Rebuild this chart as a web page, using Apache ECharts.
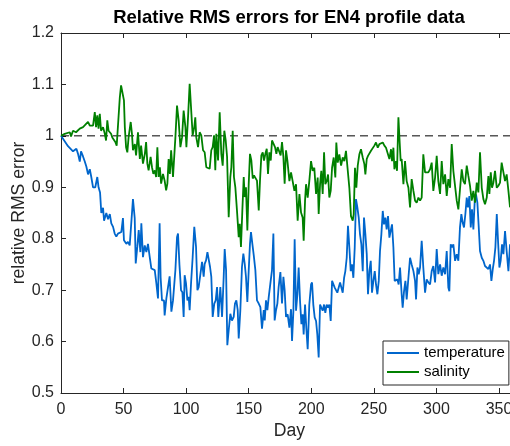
<!DOCTYPE html>
<html>
<head>
<meta charset="utf-8">
<script src="https://cdn.jsdelivr.net/npm/echarts@6/dist/echarts.min.js"></script>
<style>
html,body{margin:0;padding:0;background:#fff;}
#chart{width:510px;height:446px;}
</style>
</head>
<body>
<div id="chart"></div>
<script>
// ---- data (day, relative RMS error) ----
const titleText = 'Relative RMS errors for EN4 profile data';
const xName = 'Day';
const yName = 'relative RMS error';
const seriesNames = ['temperature', 'salinity'];
const xTicks = [0, 50, 100, 150, 200, 250, 300, 350];
const yTicks = [0.5, 0.6, 0.7, 0.8, 0.9, 1.0, 1.1, 1.2];
const referenceLevel = [[0, 1], [365, 1]];

const temperature = [
[0,1.0],[5.6,0.98],[9.6,0.97],[12.3,0.975],[13.6,0.965],[15,0.95],[16,0.97],[17.6,0.96],[19,0.95],[20.3,0.94],
[21.6,0.925],[23,0.935],[24.2,0.92],[25.6,0.90],[27.4,0.90],[29,0.92],[30,0.90],[31.2,0.89],[32.2,0.85],[33.6,0.86],
[34.4,0.835],[36.2,0.85],[37.6,0.838],[39,0.848],[40.2,0.83],[41.6,0.823],[42.9,0.81],[44.2,0.804],[45.5,0.81],[46.9,0.807],
[48.2,0.813],[49.5,0.84],[50.3,0.797],[52.2,0.79],[53.5,0.794],[54.9,0.787],[56.2,0.79],[57.5,0.877],[58.9,0.84],[59.7,0.752],
[61,0.785],[62.1,0.817],[63.4,0.774],[64.2,0.83],[65.5,0.764],[66.9,0.787],[68.2,0.774],[69.5,0.79],[70.9,0.764],[72.2,0.742],
[73.5,0.745],[74.9,0.739],[76.2,0.713],[77.5,0.684],[78.8,0.83],[79.6,0.725],[80.7,0.68],[82.3,0.68],[82.8,0.651],[84.2,0.684],
[85.5,0.687],[86.8,0.727],[88.2,0.658],[89.5,0.68],[91.4,0.739],[92.7,0.803],[93.5,0.81],[94.6,0.751],[95.9,0.70],[97,0.696],
[98,0.648],[98.8,0.729],[99.9,0.713],[101,0.68],[102,0.687],[102.8,0.661],[103.9,0.713],[105.2,0.764],[106.5,0.823],[107.9,0.784],
[109,0.70],[110,0.706],[111.3,0.703],[112.7,0.755],[114,0.726],[114.8,0.751],[115.9,0.758],[117,0.774],[118,0.771],[119.1,0.745],
[120.1,0.726],[121.2,0.648],[122.5,0.674],[123.6,0.68],[124.7,0.706],[125.7,0.648],[127.3,0.706],[128.7,0.648],[130,0.726],[130.8,0.78],
[131.9,0.739],[132.9,0.593],[134,0.622],[135.3,0.654],[136.6,0.641],[138,0.648],[139,0.674],[140.1,0.68],[141.2,0.661],[142,0.606],
[143.3,0.661],[144.6,0.745],[145.7,0.771],[146.8,0.751],[147.8,0.726],[148.9,0.677],[150,0.739],[151,0.79],[151.8,0.813],[152.9,0.79],
[154,0.768],[155.3,0.739],[156.6,0.68],[158,0.674],[159.3,0.667],[160.6,0.625],[162,0.661],[162.8,0.641],[163.8,0.68],[164.9,0.661],
[166,0.687],[167.3,0.713],[168.6,0.739],[169.7,0.81],[170.7,0.641],[171.8,0.661],[172.9,0.674],[173.9,0.706],[175.3,0.735],[176.6,0.674],
[177.7,0.726],[178.7,0.70],[179.8,0.648],[181.1,0.653],[182.5,0.627],[183.8,0.663],[184.6,0.601],[185.7,0.66],[186.7,0.799],[187.8,0.66],
[188.9,0.692],[189.9,0.744],[191,0.679],[192.1,0.634],[193.1,0.653],[193.9,0.614],[195,0.672],[196,0.627],[197.1,0.585],[198.4,0.672],
[199.8,0.711],[200.6,0.715],[201.6,0.672],[202.7,0.647],[203.8,0.64],[204.8,0.614],[205.9,0.569],[207,0.672],[208,0.666],[209.1,0.66],
[210.2,0.672],[211.2,0.656],[212.3,0.672],[213.4,0.666],[214.4,0.672],[215.5,0.64],[216.6,0.718],[217.6,0.715],[218.7,0.705],[219.8,0.705],
[220.8,0.695],[221.9,0.705],[223,0.715],[224,0.718],[225.1,0.695],[226.2,0.724],[227.2,0.737],[228.3,0.763],[229.3,0.825],[230.4,0.783],
[231.5,0.737],[232.5,0.75],[233.6,0.724],[234.7,0.783],[235.7,0.877],[236.8,0.861],[237.9,0.841],[238.9,0.809],[240,0.789],[241.1,0.737],
[242.1,0.841],[243.2,0.809],[244.3,0.77],[245.3,0.692],[246.4,0.737],[247.5,0.757],[248.5,0.695],[249.6,0.718],[250.7,0.737],[251.7,0.711],
[252.8,0.692],[253.9,0.718],[254.9,0.776],[256,0.809],[257.1,0.854],[258.1,0.828],[259.2,0.841],[260.2,0.818],[261.3,0.844],[262.4,0.802],
[263.4,0.815],[264.5,0.828],[265.6,0.783],[266.6,0.718],[267.7,0.715],[268.8,0.721],[269.8,0.711],[270.9,0.744],[272.2,0.692],[273,0.666],
[274.1,0.698],[275.2,0.718],[276.2,0.682],[277.6,0.724],[278.9,0.763],[280.2,0.75],[281.6,0.737],[282.9,0.718],[283.7,0.682],[284.8,0.744],
[285.8,0.731],[286.9,0.744],[288.2,0.796],[289.5,0.744],[290.9,0.695],[292.2,0.721],[293.5,0.715],[294.9,0.711],[296.2,0.737],[297.5,0.747],
[298.9,0.715],[300.2,0.78],[301.5,0.731],[302.9,0.75],[304.2,0.728],[305.5,0.744],[306.9,0.731],[308.2,0.776],[309.5,0.705],[310.3,0.698],
[311.4,0.789],[312.5,0.783],[313.5,0.789],[314.9,0.757],[316.2,0.77],[317.5,0.757],[318.8,0.822],[319.9,0.848],[321,0.831],[322,0.822],
[323.1,0.848],[324.2,0.88],[325.2,0.861],[326.3,0.883],[327.4,0.822],[328.4,0.857],[329.5,0.818],[330.6,0.874],[331.6,0.886],[332.7,0.87],
[333.8,0.822],[334.8,0.776],[336.2,0.763],[337.5,0.757],[338.8,0.747],[340.2,0.744],[341.5,0.741],[342.8,0.75],[343.9,0.718],[345,0.741],
[346,0.757],[347.1,0.783],[348.2,0.848],[349.2,0.796],[350.3,0.744],[351.3,0.757],[352.4,0.789],[353.5,0.77],[354.8,0.815],[356.1,0.776],
[357.5,0.737],[358.8,0.789]
];

const salinity = [
[0,1.0],[3,1.004],[7,1.007],[8,0.999],[9.6,1.01],[12,1.007],[15,1.014],[17.6,1.017],[19,1.014],[21.6,1.027],
[23,1.02],[24,1.023],[25.6,1.02],[27,1.046],[28,1.017],[29,1.04],[30,1.014],[31,1.043],[32,1.01],[33.6,1.017],
[35,1.004],[36,0.991],[37,1.03],[38,1.01],[40,1.004],[41,0.997],[42.4,1.0],[43.4,0.988],[44.5,0.981],[45.6,0.978],
[47,1.075],[48,1.098],[49.5,1.098],[50.3,1.069],[51,1.017],[52,0.978],[53,0.968],[54,0.997],[55.7,1.027],[56.7,1.004],
[57.5,0.972],[59,0.984],[60,0.962],[61.5,1.007],[63,0.955],[64,0.981],[65.5,0.946],[67,0.965],[68,0.988],[69,0.946],
[70,0.933],[71.6,0.959],[72.7,0.939],[73.8,0.926],[75,0.933],[76,0.92],[77,0.978],[78,0.92],[79,0.939],[80,0.907],
[81.5,0.926],[82.8,0.913],[84,0.894],[85,0.907],[86,0.955],[87,0.926],[88,0.972],[89.5,0.92],[91.4,0.997],[92.7,1.059],
[94,1.03],[95.4,0.978],[96.7,0.997],[98,1.049],[99.4,1.017],[100.2,0.978],[101.5,1.036],[102.8,1.101],[104.2,1.043],[105.2,1.001],
[106.5,1.017],[107.3,1.036],[108.1,0.997],[109.5,0.978],[110.8,1.007],[112.1,1.001],[113.5,0.972],[114.8,0.968],[116.1,0.939],[117.5,0.942],
[118.8,0.936],[120.1,0.972],[121.2,0.978],[122.3,1.001],[123.3,0.933],[124.1,1.004],[125.5,0.952],[126.8,1.046],[128.1,0.965],[129.2,0.942],
[130.5,1.01],[131.6,0.991],[132.7,0.959],[134,0.842],[135.3,0.92],[136.1,0.939],[137.2,1.01],[138.2,0.92],[139.3,0.90],[140.6,0.855],
[142,0.803],[142.8,0.829],[143.8,0.784],[144.9,0.855],[146,0.92],[146.8,0.881],[147.8,0.90],[148.9,0.816],[150,0.907],[151,0.965],
[152.1,0.952],[153.2,0.917],[154.2,0.923],[155.3,0.92],[156.6,0.913],[158,0.855],[159,0.913],[160.1,0.962],[161.2,0.968],[162.2,0.952],
[163.3,0.965],[164.4,0.975],[165.4,0.926],[166.5,0.968],[167.6,0.952],[168.6,0.991],[170,0.994],[171,0.978],[172.1,0.965],[173.1,0.978],
[174.5,0.975],[175.5,0.962],[176.6,0.988],[177.7,0.959],[178.7,0.907],[179.8,0.972],[180.9,0.952],[182.5,0.912],[183.8,0.929],[185.1,0.912],
[186.5,0.893],[187.8,0.906],[189.1,0.835],[190.5,0.887],[191.8,0.851],[193.1,0.841],[193.9,0.796],[195,0.874],[195.8,0.906],[197.1,0.88],
[198.4,0.912],[199.8,0.951],[201.1,0.932],[202.4,0.938],[203.8,0.887],[205.1,0.919],[205.9,0.848],[207,0.906],[208,0.932],[209.1,0.887],
[210.2,0.968],[211.2,0.906],[212.3,0.912],[213.4,0.925],[214.4,0.88],[215.5,0.893],[216.6,0.938],[217.9,0.958],[219.2,0.919],[220,0.987],
[221.1,0.948],[222.4,0.964],[223.8,0.942],[225.1,0.958],[226.4,0.951],[227.7,0.971],[229.1,0.974],[230.4,0.899],[231.7,0.844],[233.1,0.835],
[233.9,0.848],[234.9,0.938],[236,0.899],[237.1,0.942],[238.4,0.964],[239.7,0.974],[241.1,0.958],[242.4,0.945],[243.2,0.925],[244.3,0.955],
[245.3,0.961],[246.4,0.964],[247.7,0.971],[249.1,0.974],[250.4,0.981],[251.7,0.987],[253.1,0.977],[254.4,0.984],[255.7,0.981],[257.1,0.987],
[258.4,0.981],[259.7,0.977],[261,0.974],[262.4,0.955],[263.7,0.974],[264.5,0.951],[265.6,0.977],[266.4,0.935],[267.7,0.951],[268.5,0.932],
[269.6,1.036],[270.4,0.997],[271.4,0.951],[272.2,0.955],[273.6,0.906],[274.9,0.951],[276.2,0.912],[277.6,0.899],[278.9,0.861],[280.2,0.916],
[281.6,0.893],[282.9,0.874],[284.2,0.87],[285.6,0.88],[286.9,0.874],[288.2,0.88],[289.5,0.964],[290.9,0.929],[292.2,0.932],[293.5,0.929],
[294.9,0.935],[296.2,0.948],[297.5,0.893],[298.9,0.919],[300.2,0.961],[301.5,0.912],[302.9,0.887],[304.2,0.951],[305.5,0.906],[306.9,0.925],
[308.2,0.883],[309.5,0.916],[310.9,0.899],[312.2,0.984],[313.5,0.932],[314.9,0.929],[316.2,0.874],[317.5,0.857],[318.8,0.896],[320.2,0.935],
[321.5,0.912],[322.8,0.906],[324.2,0.942],[325.5,0.922],[326.8,0.903],[328.2,0.874],[329.5,0.893],[330.8,0.87],[332.2,0.909],[333.5,0.89],
[334.8,0.968],[336.2,0.899],[337.5,0.877],[338.8,0.867],[340.2,0.88],[341.5,0.922],[342.3,0.887],[343.4,0.929],[344.4,0.899],[345.5,0.909],
[346.8,0.932],[348.2,0.899],[349.5,0.903],[350.8,0.909],[352.1,0.948],[353.5,0.945],[354.8,0.912],[356.1,0.925],[357.5,0.893],[358.8,0.861]
];

// ---- chart ----
const axisColor = '#262626';
const fontFamily = '"Liberation Sans", Arial, Helvetica, sans-serif';
const chart = echarts.init(document.getElementById('chart'), null, {renderer: 'canvas'});

const xCommon = {
  type: 'value', min: 0, max: 365, interval: 50,
  splitLine: {show: false},
  axisLine: {show: true, onZero: false, lineStyle: {color: axisColor, width: 1}},
  axisTick: {show: true, inside: true, length: 5, lineStyle: {color: axisColor, width: 1}},
};

chart.setOption({
  animation: false,
  backgroundColor: '#fff',
  textStyle: {fontFamily: fontFamily},
  graphic: [{
    type: 'text', x: 289, y: 8.5,
    style: {text: titleText, font: 'bold 18.5px ' + fontFamily, fill: '#000', textAlign: 'center', textVerticalAlign: 'top'}
  }],
  grid: {left: 61, top: 33, width: 456.8, height: 360, containLabel: false, outerBoundsMode: 'none'},
  legend: {
    data: seriesNames.map(n => ({name: n, icon: 'rect'})),
    orient: 'vertical', left: 383, top: 341,
    padding: [4.5, 4, 5.5, 4], itemGap: 4,
    itemWidth: 32, itemHeight: 2,
    backgroundColor: '#fff', borderColor: axisColor, borderWidth: 1, borderRadius: 0,
    textStyle: {fontSize: 15, lineHeight: 15, color: '#000', fontFamily: fontFamily}
  },
  xAxis: [
    Object.assign({}, xCommon, {
      position: 'bottom',
      name: xName, nameLocation: 'middle', nameGap: 29, nameMoveOverlap: false,
      nameTextStyle: {fontSize: 17.6, color: axisColor, fontFamily: fontFamily},
      axisLabel: {fontSize: 16, color: axisColor, margin: 9, showMaxLabel: false, fontFamily: fontFamily,
        formatter: v => xTicks.includes(v) ? String(v) : ''}
    }),
    Object.assign({}, xCommon, {
      position: 'top',
      axisLabel: {show: false}
    })
  ],
  yAxis: {
    type: 'value', min: 0.5, max: 1.2, interval: 0.1,
    splitLine: {show: false},
    axisLine: {show: true, onZero: false, lineStyle: {color: axisColor, width: 1}},
    axisTick: {show: true, inside: true, length: 5, lineStyle: {color: axisColor, width: 1}},
    axisLabel: {fontSize: 16, color: axisColor, margin: 7, fontFamily: fontFamily,
      formatter: v => {
        const r = parseFloat(v.toFixed(1));
        return yTicks.some(t => Math.abs(t - r) < 1e-9) ? String(r) : '';
      }},
    name: yName, nameLocation: 'middle', nameGap: 33, nameRotate: 90, nameMoveOverlap: false,
    nameTextStyle: {fontSize: 17.6, color: axisColor, fontFamily: fontFamily}
  },
  series: [
    {
      name: 'reference', type: 'line', data: referenceLevel, symbol: 'none', silent: true,
      lineStyle: {color: '#000', width: 1, type: [8, 5]}, z: 1
    },
    {
      name: seriesNames[0], type: 'line', data: temperature, symbol: 'none', showSymbol: false,
      color: '#0066cc', lineStyle: {color: '#0066cc', width: 1.8}, z: 2
    },
    {
      name: seriesNames[1], type: 'line', data: salinity, symbol: 'none', showSymbol: false,
      color: '#008000', lineStyle: {color: '#008000', width: 1.8}, z: 3
    }
  ]
});
</script>
</body>
</html>
